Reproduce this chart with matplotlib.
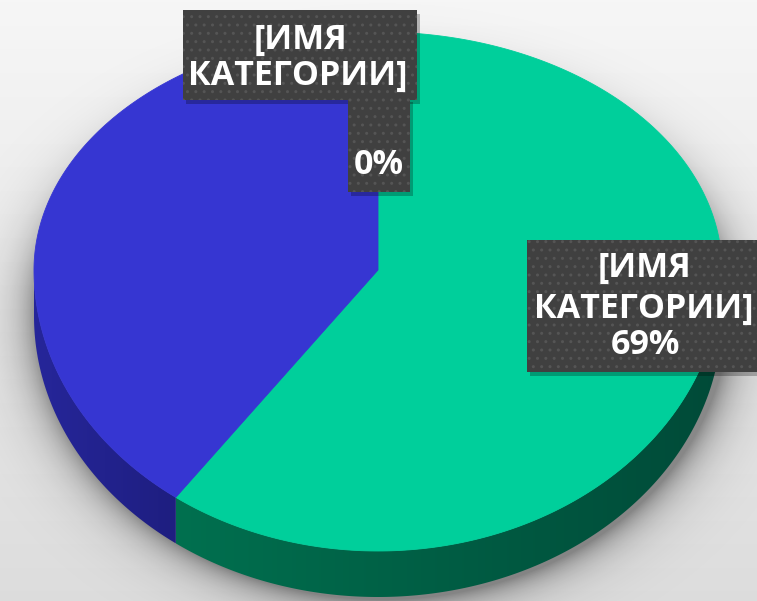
import numpy as np
import matplotlib
matplotlib.use("Agg")
import matplotlib.pyplot as plt
from matplotlib.patches import Polygon, Rectangle
from matplotlib.colors import LinearSegmentedColormap

# ---- data ----
categories = ["[ИМЯ\nКАТЕГОРИИ]", "[ИМЯ\nКАТЕГОРИИ]"]
values = [60, 40]                 # slice sizes
pct_labels = ["69%", "0%"]        # label text as printed on the chart
top_colors = ["#00CF9B", "#3636D2"]
side_colors = [("#00704F", "#004A38"), ("#26269A", "#1E1E80")]

W, H = 757, 601
fig = plt.figure(figsize=(W / 100, H / 100), dpi=100)
ax = fig.add_axes([0, 0, 1, 1])
ax.set_xlim(0, W)
ax.set_ylim(H, 0)
ax.axis("off")

# background gradient
yy, xx = np.mgrid[0:H, 0:W]
bg = 0.965 - 0.10 * (yy / H)
ax.imshow(np.dstack([bg, bg, bg]), extent=(0, W, H, 0), zorder=0, aspect="auto")

# pie geometry (pixel space)
cx, cy = 378, 270
rx, ry_top, ry_bot = 344, 238, 281
depth = 46


def pt(theta_deg, dy=0.0):
    t = np.radians(theta_deg)
    s = np.sin(t)
    ry = np.where(s >= 0, ry_top, ry_bot)
    return cx + rx * np.cos(t), cy - ry * s + dy


# soft shadow
sx = (xx - (cx + 4)) / (rx + 2)
syv = yy - (cy + 42)
sy = np.where(syv < 0, syv / (ry_top + 4), syv / (ry_bot + 6))
r = np.sqrt(sx ** 2 + sy ** 2)
alpha = 0.40 * np.exp(-np.clip(r - 1.0, 0, None) / 0.06)
alpha = np.where(r < 1.0, 0.40, alpha)
shadow = np.zeros((H, W, 4))
shadow[..., 3] = alpha
ax.imshow(shadow, extent=(0, W, H, 0), zorder=1, aspect="auto")

# wedge angles
total = sum(values)
starts, ends = [], []
a = 90.0
for v in values:
    span = 360.0 * v / total
    starts.append(a - span)
    ends.append(a)
    a -= span

# side walls (front half: angles 180..360)
for i in range(len(values)):
    lo, hi = starts[i] % 360, ends[i] % 360
    if hi <= lo:
        hi += 360
    segs = []
    for base in (0, 360, -360):
        a0 = max(lo, 180 + base)
        a1 = min(hi, 360 + base)
        if a1 > a0:
            segs.append((a0, a1))
    for a0, a1 in segs:
        th = np.linspace(a0, a1, 200)
        xt, yt = pt(th)
        xb, yb = pt(th[::-1], depth)
        poly = Polygon(np.column_stack([np.r_[xt, xb], np.r_[yt, yb]]),
                       closed=True, facecolor="none", edgecolor="none", zorder=2)
        ax.add_patch(poly)
        c0, c1 = side_colors[i]
        cmap = LinearSegmentedColormap.from_list("s", [c0, c1])
        x0, x1 = xt.min(), xt.max()
        grad = np.linspace(0, 1, 256)[None, :]
        im = ax.imshow(grad, extent=(x0, x1, H, 0), cmap=cmap, aspect="auto", zorder=2)
        im.set_clip_path(poly)

# top faces
for i in range(len(values)):
    th = np.linspace(starts[i], ends[i], 300)
    x, y = pt(th)
    xs = np.r_[cx, x]
    ys = np.r_[cy, y]
    ax.add_patch(Polygon(np.column_stack([xs, ys]), closed=True,
                         facecolor=top_colors[i], edgecolor=top_colors[i],
                         linewidth=0.6, zorder=3))

# label boxes
box_face = "#404040"
dots = "#555555"


def box(x0, y0, x1, y1):
    ax.add_patch(Rectangle((x0 + 3, y0 + 4), x1 - x0, y1 - y0, facecolor="black",
                           alpha=0.25, edgecolor="none", zorder=4))
    ax.add_patch(Rectangle((x0, y0), x1 - x0, y1 - y0, facecolor=box_face,
                           edgecolor="none", zorder=5))
    ax.add_patch(Rectangle((x0, y0), x1 - x0, y1 - y0, facecolor="none",
                           edgecolor=dots, hatch="..", linewidth=0, zorder=5))


font = dict(family=["Open Sans", "DejaVu Sans"], fontweight="bold", color="white",
            fontsize=24.5, zorder=6, ha="center", va="center")

# label for blue slice (index 1)
box(348, 98, 410, 192)
box(183, 10, 417, 100)
cat_lines = categories[1].split("\n")
ax.text(300, 40, cat_lines[0], **font)
ax.text(298, 76, cat_lines[1], **font)
ax.text(379, 165, pct_labels[1], **font)

# label for green slice (index 0)
box(527, 240, 760, 372)
cat_lines = categories[0].split("\n")
ax.text(645, 268, cat_lines[0], **font)
ax.text(644, 309, cat_lines[1], **font)
ax.text(645, 345, pct_labels[0], **font)

fig.savefig("out.png", dpi=100)
